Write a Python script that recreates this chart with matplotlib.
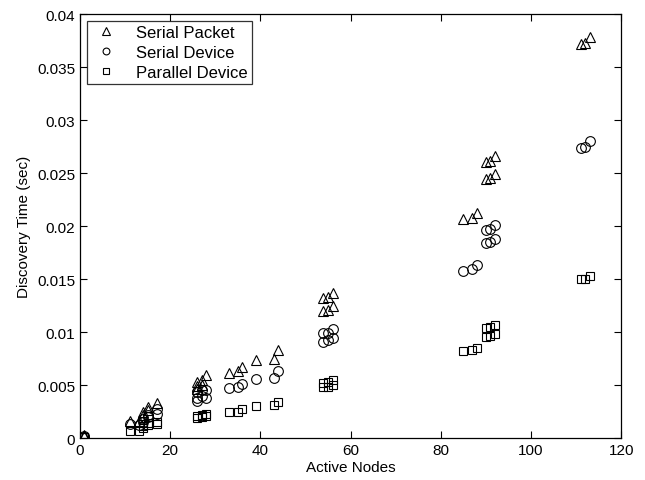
import matplotlib
matplotlib.use('Agg')
import matplotlib.pyplot as plt

plt.rcParams['font.family'] = ['Liberation Sans', 'DejaVu Sans']

# Serial Packet
pkt_x = [1, 1, 11, 13, 14, 14, 15, 15, 17, 26, 26, 26, 27, 27, 28, 33, 35, 36, 39, 43, 44,
         54, 54, 55, 55, 56, 56, 85, 87, 88, 90, 90, 91, 91, 92, 92, 111, 112, 113]
pkt_y = [0.0002, 0.0003, 0.0016, 0.0016, 0.0022, 0.0025, 0.0026, 0.0029, 0.0033,
         0.0046, 0.0049, 0.0053, 0.0050, 0.0055, 0.0059, 0.0061, 0.0063, 0.0067, 0.0074,
         0.0075, 0.0083, 0.0132, 0.0120, 0.0133, 0.0121, 0.0137, 0.0125,
         0.0207, 0.0208, 0.0212, 0.0260, 0.0244, 0.0261, 0.0245, 0.0266, 0.0249,
         0.0372, 0.0373, 0.0378]

# Serial Device
dev_x = [1, 1, 11, 13, 14, 14, 15, 15, 17, 17, 26, 26, 26, 27, 27, 28, 28, 33, 35, 36, 39,
         43, 44, 54, 54, 55, 55, 56, 56, 85, 87, 88, 90, 90, 91, 91, 92, 92, 111, 112, 113]
dev_y = [0.0001, 0.0002, 0.0013, 0.0012, 0.0015, 0.0018, 0.0020, 0.0022, 0.0023, 0.0027,
         0.0035, 0.0038, 0.0043, 0.0040, 0.0045, 0.0038, 0.0045, 0.0047, 0.0048, 0.0051,
         0.0056, 0.0057, 0.0063, 0.0099, 0.0091, 0.0099, 0.0092, 0.0103, 0.0094,
         0.0158, 0.0159, 0.0163, 0.0196, 0.0184, 0.0197, 0.0185, 0.0201, 0.0188,
         0.0274, 0.0275, 0.0280]

# Parallel Device
par_x = [1, 1, 11, 13, 14, 14, 15, 15, 17, 17, 26, 26, 27, 27, 28, 28, 33, 35, 36, 39,
         43, 44, 54, 54, 55, 55, 56, 56, 85, 87, 88, 90, 90, 91, 91, 92, 92, 111, 112, 113]
par_y = [0.0001, 0.0001, 0.0007, 0.0007, 0.0009, 0.0011, 0.0012, 0.0014, 0.0013, 0.0015,
         0.0019, 0.0021, 0.0020, 0.0022, 0.0021, 0.0023, 0.0025, 0.0025, 0.0027, 0.0030,
         0.0031, 0.0034, 0.0052, 0.0048, 0.0053, 0.0048, 0.0055, 0.0050,
         0.0082, 0.0083, 0.0085, 0.0104, 0.0095, 0.0105, 0.0096, 0.0107, 0.0098,
         0.0150, 0.0150, 0.0153]

fig = plt.figure(figsize=(6.45, 4.81), dpi=100)
ax = fig.add_axes([0.124, 0.0873, 0.839, 0.8815])

ax.plot(pkt_x, pkt_y, '^', mfc='none', mec='k', ms=7.5, mew=0.8, label='Serial Packet')
ax.plot(dev_x, dev_y, 'o', mfc='none', mec='k', ms=7, mew=0.8, label='Serial Device')
ax.plot(par_x, par_y, 's', mfc='none', mec='k', ms=6, mew=0.8, label='Parallel Device')

ax.set_xlim(0, 120)
ax.set_ylim(0, 0.04)
ax.set_xticks(range(0, 121, 20))
ax.set_yticks([0, 0.005, 0.01, 0.015, 0.02, 0.025, 0.03, 0.035, 0.04])
ax.set_yticklabels(['0', '0.005', '0.01', '0.015', '0.02', '0.025', '0.03', '0.035', '0.04'])
ax.tick_params(direction='in', top=True, right=True, labelsize=11, length=5, width=0.8)
for s in ax.spines.values():
    s.set_linewidth(0.9)

ax.set_xlabel('Active Nodes', fontsize=11, labelpad=2)
ax.set_ylabel('Discovery Time (sec)', fontsize=11, labelpad=4)

leg = ax.legend(loc='upper left', fontsize=12, frameon=True, fancybox=False,
                edgecolor='k', borderaxespad=0.4, handletextpad=0.9, labelspacing=0.3,
                markerscale=0.7, borderpad=0.25, handlelength=1.8)
leg.get_frame().set_linewidth(0.9)

fig.savefig('out.png', dpi=100)
